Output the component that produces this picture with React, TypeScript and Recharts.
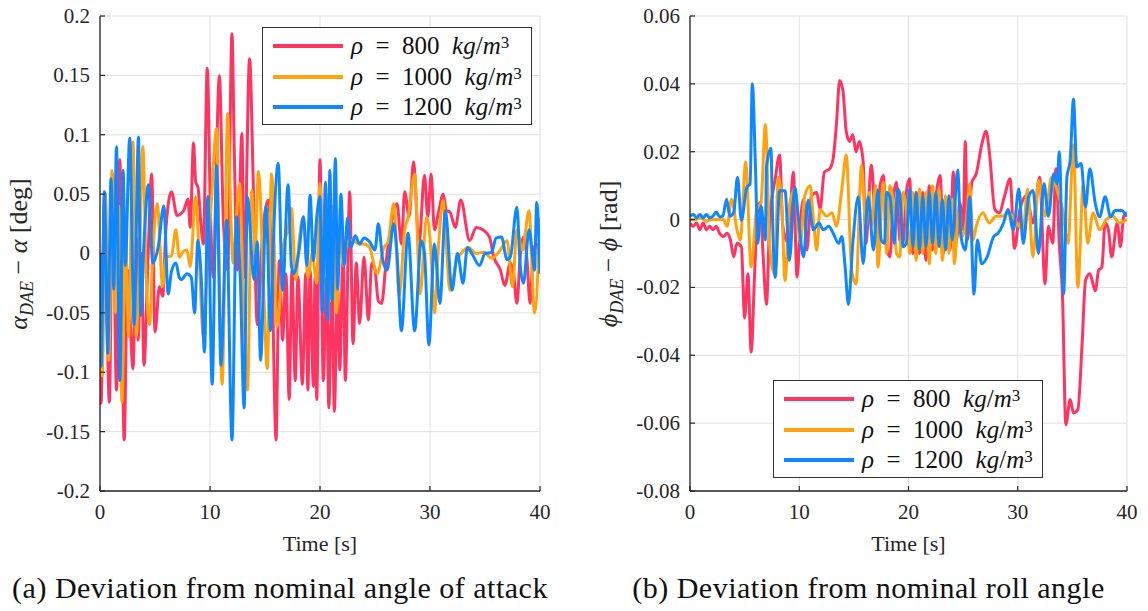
import { LineChart, Line, XAxis, YAxis, CartesianGrid } from 'recharts';

// series colours, shared by both panels
const densities = ['800', '1000', '1200'];
const colors = ['#ff3461', '#ffa20c', '#0f88ff'];

const timeTicks = [0, 10, 20, 30, 40];
const alphaTicks = [-0.2, -0.15, -0.1, -0.05, 0, 0.05, 0.1, 0.15, 0.2];
const phiTicks = [-0.08, -0.06, -0.04, -0.02, 0, 0.02, 0.04, 0.06];

// (a) angle of attack deviation [t, value]
const alpha800: [number, number][] = [
    [0, 0], [0.1, -0.126], [0.4, 0.048], [0.85, -0.125], [1.15, 0.067], [1.5, -0.115], [1.8, 0.079], [2.2, -0.157],
    [2.5, -0.014], [3.0, -0.097], [3.3, 0.014], [3.45, -0.073], [3.75, 0.0], [4.0, -0.094], [4.35, -0.008], [4.7, 0.067],
    [5.0, -0.066], [5.4, -0.028], [5.7, -0.036], [6.0, 0.022], [6.5, 0.052], [7.0, 0.032], [7.6, 0.036], [8.0, 0.046],
    [8.2, 0.022], [8.5, 0.093], [8.7, 0.06], [8.9, 0.056], [9.2, 0.022], [9.4, 0.008], [9.75, 0.156], [10.05, 0.031],
    [10.3, -0.02], [10.85, 0.15], [11.2, 0.031], [11.6, -0.014], [12.0, 0.185], [12.2, 0.09], [12.5, -0.014], [12.9, 0.101],
    [13.1, -0.02], [13.6, 0.164], [13.95, 0.053], [14.3, -0.06], [14.8, 0.02], [15.3, 0.045], [15.65, -0.02], [16.0, -0.157],
    [16.3, -0.006], [16.6, -0.073], [16.9, -0.017], [17.2, -0.123], [17.45, -0.014], [17.75, -0.107], [18.0, -0.02], [18.4, -0.11],
    [18.7, -0.017], [18.9, -0.115], [19.1, -0.014], [19.4, -0.112], [19.55, -0.02], [19.7, -0.123], [20.0, 0.079], [20.3, -0.107],
    [20.6, -0.02], [20.8, -0.13], [21.1, -0.014], [21.3, -0.133], [21.6, -0.028], [21.8, -0.098], [22.1, 0.008], [22.3, -0.107],
    [22.7, 0.052], [23.0, -0.076], [23.3, -0.008], [23.6, -0.059], [24.0, -0.003], [24.4, -0.056], [24.7, -0.008], [25.0, -0.014],
    [25.3, -0.04], [25.6, -0.042], [26.0, -0.008], [26.4, 0.02], [27.0, 0.042], [27.4, 0.008], [27.7, 0.052], [28.1, 0.031],
    [28.5, 0.077], [29.0, 0.008], [29.5, 0.066], [29.8, 0.031], [30.1, 0.067], [30.4, 0.02], [30.8, 0.036], [31.2, 0.05],
    [31.5, 0.036], [31.8, 0.035], [32.3, 0.022], [32.8, 0.045], [33.6, 0.011], [34.2, 0.022], [34.8, 0.02], [35.4, 0.014],
    [35.8, -0.003], [36.4, -0.014], [36.8, -0.027], [37.3, -0.008], [37.6, -0.017], [37.9, -0.042], [38.2, -0.003], [38.5, 0.014],
    [38.8, -0.003], [39.1, -0.042], [39.4, 0.003], [39.7, 0.008], [40, -0.006],
];

const alpha1000: [number, number][] = [
    [0, 0], [0.2, -0.103], [0.5, 0.05], [0.8, -0.09], [1.1, 0.07], [1.4, -0.05], [1.7, 0.04], [2.0, -0.125],
    [2.3, 0.02], [2.6, -0.07], [3.0, 0.094], [3.3, -0.07], [3.6, 0.0], [3.9, 0.09], [4.2, -0.02], [4.5, -0.06],
    [4.8, 0.0], [5.2, 0.042], [5.7, -0.028], [6.0, -0.003], [6.5, -0.002], [6.9, 0.02], [7.2, -0.003], [7.6, 0.002],
    [7.9, 0.003], [8.2, -0.011], [8.7, 0.048], [9.0, 0.0], [9.4, -0.07], [9.8, 0.0], [10.1, 0.04], [10.6, 0.105],
    [10.85, -0.02], [11.1, -0.11], [11.4, 0.02], [11.6, 0.118], [11.9, 0.03], [12.1, -0.008], [12.4, 0.03], [12.7, 0.059],
    [13.0, -0.03], [13.4, -0.115], [13.8, 0.053], [14.1, 0.0], [14.4, 0.069], [14.9, -0.036], [15.2, -0.097], [15.6, 0.067],
    [16.1, -0.062], [16.7, 0.008], [17.1, 0.02], [17.4, 0.038], [17.8, -0.022], [18.1, 0.01], [18.5, 0.031], [18.9, -0.02],
    [19.3, 0.0], [19.7, -0.025], [20.0, 0.059], [20.3, -0.03], [20.6, 0.05], [20.9, -0.04], [21.2, 0.04], [21.5, -0.05],
    [21.8, 0.02], [22.1, -0.01], [22.5, 0.01], [23.0, 0.011], [23.5, 0.008], [24.0, 0.008], [24.5, 0.005], [25.2, -0.017],
    [25.8, 0.005], [26.2, 0.01], [26.7, 0.042], [27.2, -0.036], [27.7, 0.02], [28.0, 0.03], [28.6, 0.067], [29.1, -0.034],
    [29.7, 0.031], [30.1, 0.0], [30.4, -0.05], [30.8, 0.01], [31.2, 0.045], [31.5, 0.005], [31.8, -0.031], [32.4, -0.007],
    [33.0, 0.002], [33.5, 0.005], [34.2, 0.0], [34.9, 0.001], [35.6, -0.004], [36.4, 0.003], [37.0, 0.011], [37.5, -0.028],
    [37.9, 0.02], [38.4, 0.003], [39.0, 0.036], [39.5, -0.05], [40, 0.03],
];

const alpha1200: [number, number][] = [
    [0, 0], [0.1, -0.095], [0.4, 0.052], [0.7, -0.084], [1.0, 0.063], [1.25, -0.03], [1.5, 0.09], [1.8, -0.107],
    [2.1, 0.07], [2.3, -0.01], [2.7, 0.097], [3.1, -0.06], [3.5, 0.098], [3.7, -0.052], [4.0, 0.01], [4.4, 0.058],
    [4.8, -0.008], [5.3, 0.006], [5.8, 0.04], [6.2, -0.034], [6.5, -0.015], [6.9, -0.008], [7.2, -0.02], [7.4, -0.022],
    [7.9, -0.017], [8.3, -0.02], [8.6, -0.05], [8.9, 0.011], [9.2, -0.02], [9.5, -0.083], [9.8, 0.048], [10.2, -0.11],
    [10.6, 0.074], [11.0, -0.094], [11.5, 0.028], [12.0, -0.157], [12.4, 0.031], [12.75, -0.02], [13.1, -0.13], [13.4, 0.048],
    [14.0, -0.022], [14.3, 0.01], [14.6, -0.09], [15.1, 0.04], [15.5, -0.065], [15.8, 0.02], [16.2, 0.076], [16.6, -0.031],
    [17.1, 0.058], [17.4, -0.01], [17.6, -0.017], [18.1, 0.003], [18.5, 0.031], [18.8, -0.01], [19.1, 0.049], [19.4, -0.006],
    [19.7, 0.03], [20.0, 0.048], [20.2, -0.05], [20.5, 0.06], [20.7, -0.056], [20.9, 0.07], [21.1, -0.04], [21.4, 0.08],
    [21.6, -0.03], [21.9, 0.05], [22.2, -0.01], [22.5, 0.03], [22.8, 0.005], [23.2, 0.015], [23.6, 0.008], [24.0, 0.013],
    [24.5, 0.01], [25.0, 0.003], [25.3, 0.025], [25.7, -0.005], [26.1, -0.014], [26.7, 0.025], [27.0, 0.0], [27.4, -0.065],
    [28.0, 0.017], [28.6, -0.065], [29.2, 0.011], [29.5, 0.0], [29.9, -0.077], [30.4, 0.008], [30.9, -0.042], [31.4, 0.036],
    [32.0, -0.031], [32.5, 0.0], [33.0, -0.025], [33.4, 0.005], [33.8, 0.0], [34.5, -0.01], [35.0, 0.0], [35.6, 0.001],
    [36.0, 0.013], [36.5, 0.014], [37.0, -0.005], [37.3, -0.003], [37.9, 0.039], [38.2, -0.01], [38.5, -0.025], [39.0, 0.02],
    [39.3, 0.0], [39.5, -0.014], [39.7, 0.043], [40, -0.017],
];

// (b) roll angle deviation [t, value]
const phi800: [number, number][] = [
    [0, -0.001], [0.3, -0.002], [0.6, -0.001], [0.9, -0.003], [1.2, -0.001], [1.5, -0.003], [1.8, -0.002], [2.1, -0.003],
    [2.4, -0.002], [2.7, -0.004], [3.05, -0.005], [3.4, -0.004], [3.7, -0.006], [4.0, -0.011], [4.3, -0.007], [4.7, -0.008],
    [5.0, -0.029], [5.3, -0.016], [5.6, -0.039], [5.9, -0.017], [6.2, 0.003], [6.4, 0.005], [6.7, -0.011], [7.0, -0.025],
    [7.3, 0.0], [7.8, 0.012], [8.2, 0.019], [8.5, -0.002], [9.0, -0.007], [9.45, 0.014], [9.8, -0.017], [10.1, -0.001],
    [10.4, 0.006], [10.7, -0.009], [11.1, 0.007], [11.6, 0.008], [11.9, 0.003], [12.3, 0.014], [12.8, 0.015], [13.1, 0.018],
    [13.4, 0.028], [13.7, 0.041], [14.0, 0.038], [14.3, 0.026], [14.6, 0.023], [14.9, 0.025], [15.2, 0.02], [15.5, 0.023],
    [15.85, 0.017], [16.1, -0.007], [16.6, 0.016], [17.1, -0.007], [17.4, 0.01], [17.7, 0.013], [18.0, -0.008], [18.3, -0.011],
    [18.6, 0.006], [18.9, 0.011], [19.2, -0.006], [19.5, -0.007], [19.8, 0.008], [20.1, 0.012], [20.4, -0.01], [20.7, 0.008],
    [21.0, -0.01], [21.3, 0.008], [21.6, -0.012], [21.9, 0.01], [22.2, -0.009], [22.5, 0.006], [22.9, 0.013], [23.2, -0.01],
    [23.5, 0.005], [23.8, -0.009], [24.1, 0.014], [24.4, -0.006], [24.7, 0.005], [25.0, -0.003], [25.2, 0.023], [25.4, -0.006],
    [25.8, 0.011], [26.2, 0.0135], [26.7, 0.022], [27.1, 0.026], [27.4, 0.02], [27.9, 0.003], [28.3, 0.002], [28.8, 0.007],
    [29.3, 0.012], [29.7, -0.0085], [30.2, 0.003], [30.8, 0.007], [31.4, -0.001], [32.0, 0.0125], [32.5, -0.019], [32.8, -0.002],
    [33.2, -0.007], [33.5, 0.015], [33.8, -0.007], [34.1, -0.023], [34.4, -0.0605], [34.8, -0.053], [35.1, -0.057], [35.5, -0.056],
    [35.9, -0.036], [36.2, -0.018], [36.6, -0.016], [37.1, -0.021], [37.4, -0.015], [37.7, -0.014], [38.0, -0.001], [38.3, -0.003],
    [38.6, -0.011], [39.1, -0.001], [39.4, -0.008], [39.7, 0.001], [40, 0.002],
];

const phi1000: [number, number][] = [
    [0, 0.0], [0.5, 0.0], [1.0, 0.0005], [1.5, -0.0005], [2.0, 0.0], [2.5, 0.0], [3.05, 0.0], [3.4, -0.002],
    [3.8, 0.006], [4.3, -0.003], [4.6, -0.006], [5.1, 0.017], [5.6, -0.014], [6.1, 0.003], [6.5, 0.005], [6.9, 0.028],
    [7.3, -0.008], [7.7, -0.016], [8.1, 0.0125], [8.4, 0.004], [8.7, -0.018], [9.1, 0.004], [9.6, 0.009], [10.1, -0.007],
    [10.5, 0.007], [11.0, 0.01], [11.3, 0.0], [11.6, -0.009], [11.9, 0.003], [12.5, 0.001], [13.0, 0.002], [13.4, -0.002],
    [13.9, 0.009], [14.3, 0.019], [14.8, -0.015], [15.2, -0.019], [15.7, 0.016], [16.1, -0.002], [16.4, 0.008], [16.6, -0.002],
    [17.0, 0.01], [17.2, -0.014], [17.7, 0.011], [18.0, -0.01], [18.3, 0.01], [18.6, 0.005], [18.9, -0.01], [19.2, -0.011],
    [19.5, 0.008], [19.8, 0.003], [20.1, -0.01], [20.4, 0.008], [20.7, -0.012], [21.0, 0.009], [21.3, -0.01], [21.6, 0.008],
    [21.9, -0.013], [22.2, 0.01], [22.5, -0.01], [22.8, 0.009], [23.1, -0.012], [23.4, 0.007], [23.7, -0.01], [24.0, 0.006],
    [24.2, -0.013], [24.6, 0.003], [24.9, -0.005], [25.3, 0.0], [25.6, 0.0105], [25.9, -0.006], [26.2, -0.002], [26.8, 0.002],
    [27.4, -0.001], [28.0, 0.001], [28.6, 0.001], [29.2, 0.002], [29.9, -0.001], [30.5, -0.003], [30.9, 0.009], [31.4, -0.011],
    [31.9, 0.0115], [32.5, 0.001], [33.1, 0.0125], [33.7, 0.0075], [34.1, 0.003], [34.6, -0.007], [35.1, 0.022], [35.5, -0.02],
    [36.0, 0.0105], [36.4, -0.007], [36.9, 0.002], [37.5, -0.003], [38.1, 0.0], [38.7, 0.001], [39.3, -0.001], [40, 0.0],
];

const phi1200: [number, number][] = [
    [0, 0.001], [0.3, 0.0015], [0.6, 0.0005], [0.9, 0.0015], [1.2, 0.0005], [1.5, 0.0015], [1.8, 0.0005], [2.1, 0.001],
    [2.4, 0.0022], [2.7, 0.0008], [3.0, 0.001], [3.35, 0.006], [3.65, 0.001], [4.0, 0.002], [4.35, 0.0125], [4.7, -0.0002],
    [5.2, 0.0095], [5.5, 0.0105], [5.7, 0.04], [6.0, 0.0145], [6.2, -0.007], [6.5, 0.004], [6.9, -0.006], [7.0, 0.0155],
    [7.4, 0.021], [7.6, -0.005], [7.8, -0.017], [8.2, 0.0085], [8.7, 0.0085], [9.1, -0.012], [9.6, 0.0095], [9.9, 0.001],
    [10.4, -0.011], [10.8, 0.0057], [11.3, -0.003], [11.8, -0.001], [12.2, -0.003], [12.7, -0.002], [13.1, -0.004], [13.6, -0.007],
    [13.9, -0.005], [14.2, -0.014], [14.5, -0.025], [14.9, -0.007], [15.4, 0.0067], [15.85, -0.013], [16.3, 0.0067], [16.8, -0.009],
    [17.2, 0.0087], [17.5, -0.006], [17.8, -0.007], [18.0, 0.008], [18.3, 0.0067], [18.7, -0.007], [19.0, 0.009], [19.2, 0.0076],
    [19.5, -0.008], [19.8, -0.007], [20.1, 0.009], [20.4, -0.008], [20.7, 0.008], [21.0, -0.009], [21.3, 0.007], [21.6, -0.008],
    [21.9, 0.008], [22.2, -0.007], [22.5, 0.008], [22.8, -0.008], [23.1, 0.006], [23.4, -0.009], [23.7, 0.007], [24.0, -0.006],
    [24.5, 0.0145], [24.8, -0.005], [25.2, -0.009], [25.6, 0.0067], [26.0, -0.022], [26.3, -0.006], [26.7, -0.013], [27.2, -0.011],
    [27.8, -0.005], [28.2, -0.004], [28.7, -0.001], [29.1, 0.003], [29.6, -0.003], [30.1, 0.009], [30.5, -0.007], [31.0, 0.0067],
    [31.4, 0.0086], [31.9, -0.01], [32.4, 0.0106], [32.8, 0.001], [33.3, 0.0135], [33.6, 0.0106], [33.8, 0.02], [34.2, -0.022],
    [34.5, 0.0125], [34.8, 0.0175], [35.1, 0.0355], [35.4, 0.0155], [35.8, 0.0165], [36.2, 0.0037], [36.6, 0.015], [37.1, 0.0047],
    [37.5, 0.0008], [38.0, 0.0067], [38.5, 0.0008], [38.9, 0.0027], [39.5, 0.0027], [40, 0.0008],
];

const serif = '"Liberation Serif", "DejaVu Serif", serif';
const ink = '#262626';

const toPoints = (pairs: [number, number][]) => pairs.map(([t, v]) => ({ t, v }));

// tick text drawn by hand so the serif font sticks; short inward tick marks like matlab
// x axis: text y = axis y + tickSize(6) + tickMargin(6)
const XTick = ({ x, y, payload }: any) => (
    <g>
        <line x1={x} x2={x} y1={y - 12} y2={y - 17} stroke={ink} strokeWidth={1.2} />
        <text x={x} y={y} dy="0.75em" textAnchor="middle" fill={ink} style={{ fontFamily: serif, fontSize: 21 }}>
            {payload.value}
        </text>
    </g>
);
// y axis: text x = axis x - tickSize(6) - tickMargin(4)
const YTick = ({ x, y, payload }: any) => (
    <g>
        <line x1={x + 10} x2={x + 15} y1={y} y2={y} stroke={ink} strokeWidth={1.2} />
        <text x={x} y={y} dy="0.33em" textAnchor="end" fill={ink} style={{ fontFamily: serif, fontSize: 21 }}>
            {payload.value}
        </text>
    </g>
);

function Legend({ left, top }: { left: number; top: number }) {
    return (
        <div style={{ position: 'absolute', left, top, width: 270, height: 98, border: '1.5px solid #333', background: '#fff', boxSizing: 'border-box', padding: '3px 0 0 10px' }}>
            {densities.map((d, i) => (
                <div key={d} style={{ display: 'flex', alignItems: 'center', height: 30.5, fontFamily: serif, fontSize: 25, color: '#111', whiteSpace: 'nowrap' }}>
                    <span style={{ display: 'inline-block', width: 70, height: 4, background: colors[i], marginRight: 8 }} />
                    <i>ρ</i>{'\u2002=\u2002'}{d}{'\u2002'}<i>kg</i>/<i>m</i><sup style={{ fontSize: 17, position: 'relative', top: -3 }}>3</sup>
                </div>
            ))}
        </div>
    );
}

function Panel({ left, width, series, ticks, domain, yLabel, legendPos, caption }: any) {
    return (
        <div style={{ position: 'absolute', left, top: 0, width, height: 611 }}>
            <LineChart width={width} height={560} margin={{ top: 16, right: 20, bottom: 0, left: 0 }}>
                <CartesianGrid stroke="#e0e0e0" strokeWidth={1} />
                <XAxis type="number" dataKey="t" domain={[0, 40]} ticks={timeTicks} allowDataOverflow height={69}
                    stroke={ink} strokeWidth={1.3} tickLine={false} tickMargin={6} tick={<XTick />} />
                <YAxis type="number" dataKey="v" domain={domain} ticks={ticks} allowDataOverflow width={100}
                    stroke={ink} strokeWidth={1.3} tickLine={false} tickMargin={4} tick={<YTick />} />
                {series.map((s: [number, number][], i: number) => (
                    <Line key={densities[i]} data={toPoints(s)} dataKey="v" type="monotone" stroke={colors[i]}
                        strokeWidth={3} dot={false} isAnimationActive={false} />
                ))}
            </LineChart>
            <div style={{ position: 'absolute', left: 21, top: 254, transform: 'translate(-50%, -50%) rotate(-90deg)', fontFamily: serif, fontSize: 26, color: ink, whiteSpace: 'nowrap' }}>
                {yLabel}
            </div>
            <div style={{ position: 'absolute', left: 100, width: width - 120, top: 531, textAlign: 'center', fontFamily: serif, fontSize: 22, color: ink }}>
                Time [s]
            </div>
            <div style={{ position: 'absolute', left: 0, width: width, top: 571, textAlign: 'center', fontFamily: serif, fontSize: 30, letterSpacing: 0.5, color: '#111', whiteSpace: 'nowrap' }}>
                {caption}
            </div>
            <Legend left={legendPos[0]} top={legendPos[1]} />
        </div>
    );
}

export default function App() {
    return (
        <div style={{ position: 'absolute', left: 0, top: 0, width: 1148, height: 611, background: '#fff', overflow: 'hidden' }}>
            <Panel left={0} width={560} series={[alpha800, alpha1000, alpha1200]} ticks={alphaTicks} domain={[-0.2, 0.2]}
                yLabel={<span><i>α</i><sub style={{ fontSize: 18 }}><i>DAE</i></sub> − <i>α</i> [deg]</span>}
                legendPos={[262, 27]} caption="(a) Deviation from nominal angle of attack" />
            <Panel left={590} width={557} series={[phi800, phi1000, phi1200]} ticks={phiTicks} domain={[-0.08, 0.06]}
                yLabel={<span><i>ϕ</i><sub style={{ fontSize: 18 }}><i>DAE</i></sub> − <i>ϕ</i> [rad]</span>}
                legendPos={[183, 380]} caption="(b) Deviation from nominal roll angle" />
        </div>
    );
}
